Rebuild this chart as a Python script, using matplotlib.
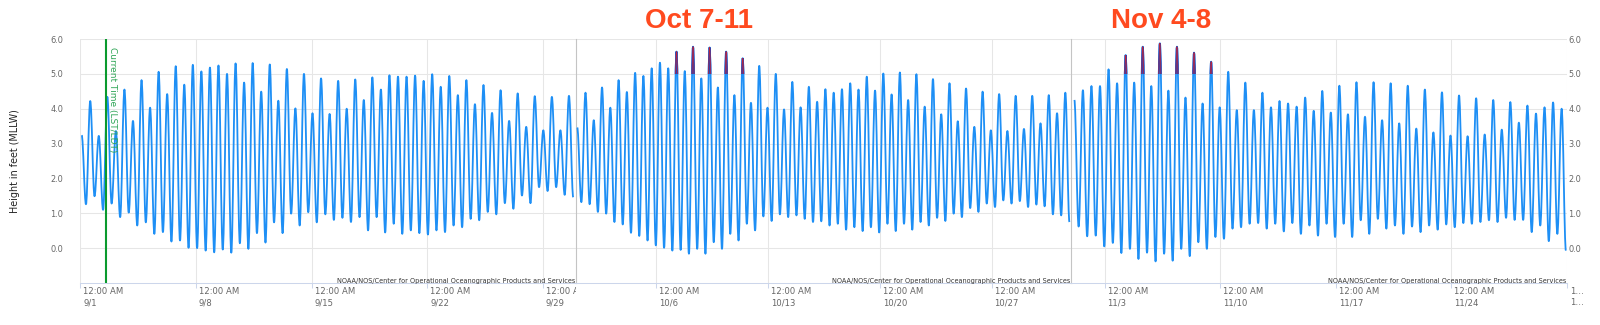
import pandas as pd
import matplotlib
matplotlib.use("Agg")
import matplotlib.pyplot as plt
import matplotlib.dates as mdates
from matplotlib.path import Path
from matplotlib.patches import PathPatch, Rectangle
from matplotlib.transforms import ScaledTranslation, Bbox, TransformedBbox, blended_transform_factory

# tide extremes in ft above MLLW, alternating high / low
sep_start = "2019-09-01 02:00"
sep_levels = [3.24, 1.26, 4.22, 1.49, 3.22, 1.10, 4.34, 1.28, 3.36, 0.89,
              4.55, 1.02, 3.65, 0.65, 4.82, 0.74, 4.03, 0.41, 5.06, 0.46,
              4.42, 0.19, 5.22, 0.22, 4.69, 0.01, 5.26, 0.00, 5.07, -0.07,
              5.18, -0.12, 5.24, -0.04, 5.00, -0.13, 5.30, 0.14, 4.75, -0.02,
              5.31, 0.43, 4.49, 0.16, 5.27, 0.74, 4.23, 0.43, 5.14, 0.99,
              4.01, 0.65, 5.00, 1.03, 3.87, 0.74, 4.87, 0.97, 3.85, 0.81,
              4.80, 0.87, 4.00, 0.75, 4.84, 0.89, 4.25, 0.51, 4.90, 0.89,
              4.55, 0.45, 4.96, 0.70, 4.92, 0.41, 4.92, 0.51, 4.95, 0.43,
              4.80, 0.39, 4.99, 0.51, 4.63, 0.46, 4.94, 0.65, 4.39, 0.60,
              4.82, 0.84, 4.13, 0.80, 4.68, 1.04, 3.88, 0.97, 4.53, 1.29,
              3.65, 1.13, 4.44, 1.51, 3.48, 1.29, 4.36, 1.75, 3.38, 1.64,
              4.34, 1.75, 3.38, 1.53, 4.37, 1.46]

oct_start = "2019-10-01 02:00"
oct_levels = [3.46, 1.32, 4.46, 1.26, 3.67, 1.04, 4.61, 0.99, 4.03, 0.75,
              4.82, 0.68, 4.48, 0.44, 5.03, 0.35, 4.94, 0.22, 5.16, 0.08,
              5.32, 0.01, 5.16, -0.07, 5.64, -0.05, 5.08, -0.16, 5.78, -0.02,
              4.87, -0.16, 5.76, 0.17, 4.61, -0.02, 5.64, 0.41, 4.39, 0.22,
              5.45, 0.70, 4.17, 0.51, 5.23, 0.91, 4.03, 0.78, 5.00, 0.97,
              3.98, 0.89, 4.77, 0.94, 4.04, 0.84, 4.63, 0.75, 4.20, 0.77,
              4.56, 0.65, 4.46, 0.70, 4.56, 0.53, 4.73, 0.60, 4.55, 0.49,
              4.92, 0.60, 4.52, 0.45, 5.01, 0.70, 4.41, 0.49, 5.04, 0.70,
              4.25, 0.53, 4.99, 0.75, 4.06, 0.65, 4.85, 0.87, 3.84, 0.78,
              4.73, 0.99, 3.64, 0.89, 4.58, 1.15, 3.48, 1.04, 4.49, 1.28,
              3.38, 1.18, 4.42, 1.37, 3.36, 1.28, 4.37, 1.35, 3.42, 1.18,
              4.37, 1.25, 3.58, 1.20, 4.39, 0.97, 3.87, 0.94, 4.46, 0.75]

nov_start = "2019-11-01 04:12"
nov_levels = [4.25, 0.62, 4.53, 0.34, 4.65, 0.36, 4.65, 0.05, 5.13, 0.15,
              4.73, -0.14, 5.54, -0.02, 4.75, -0.31, 5.78, -0.13, 4.65, -0.38,
              5.88, -0.16, 4.52, -0.36, 5.78, -0.02, 4.32, -0.23, 5.61, 0.17,
              4.15, -0.02, 5.35, 0.32, 4.04, 0.27, 5.06, 0.56, 3.96, 0.60,
              4.75, 0.70, 3.96, 0.72, 4.46, 0.56, 4.04, 0.70, 4.22, 0.48,
              4.15, 0.72, 4.06, 0.41, 4.32, 0.65, 3.94, 0.36, 4.51, 0.70,
              3.89, 0.32, 4.66, 0.70, 3.84, 0.32, 4.76, 0.80, 3.77, 0.41,
              4.76, 0.84, 3.67, 0.56, 4.73, 0.65, 3.58, 0.41, 4.66, 0.62,
              3.43, 0.46, 4.55, 0.65, 3.32, 0.53, 4.47, 0.68, 3.23, 0.60,
              4.38, 0.72, 3.21, 0.70, 4.30, 0.75, 3.26, 0.80, 4.25, 0.75,
              3.40, 0.87, 4.19, 0.81, 3.60, 0.81, 4.09, 0.46, 3.86, 0.65,
              4.04, 0.20, 4.18, 0.41, 4.00, -0.07]

half_tide = pd.Timedelta(minutes=372.6)  # high to low, half an M2 cycle

month_bounds = [("2019-09-01", "2019-10-01"), ("2019-10-01", "2019-11-01"), ("2019-11-01", "2019-12-01")]
sep_ticks = ["2019-09-01", "2019-09-08", "2019-09-15", "2019-09-22", "2019-09-29"]
oct_ticks = ["2019-10-06", "2019-10-13", "2019-10-20", "2019-10-27"]
nov_ticks = ["2019-11-03", "2019-11-10", "2019-11-17", "2019-11-24"]
end_tick = "2019-12-01"
y_ticks = [0, 1, 2, 3, 4, 5, 6]

current_time = "2019-09-02 13:20"
king_peak = 5.34     # highs at or above this get the marked tip
flood_level = 5.0    # tip is coloured from here up
credit = "NOAA/NOS/Center for Operational Oceanographic Products and Services"

LINE = "#1e8ff5"
GRID = "#e6e6e6"
AXIS = "#ccd6eb"
TXT = "#666666"


def tide_path(x, y, k=0.364):
    # cubic segments with flat tangents at each high/low, like a spline series
    verts = [(x[0], y[0])]
    codes = [Path.MOVETO]
    for i in range(len(x) - 1):
        dx = x[i + 1] - x[i]
        verts += [(x[i] + k * dx, y[i]), (x[i + 1] - k * dx, y[i + 1]), (x[i + 1], y[i + 1])]
        codes += [Path.CURVE4] * 3
    return Path(verts, codes)


fig = plt.figure(figsize=(16, 3.25), dpi=100)
gs = fig.add_gridspec(1, 3, left=0.0502, right=0.9794, top=0.88, bottom=0.1292, wspace=0)
axes = [fig.add_subplot(gs[0, i]) for i in range(3)]

series = [(sep_start, sep_levels, sep_ticks), (oct_start, oct_levels, oct_ticks), (nov_start, nov_levels, nov_ticks)]

for j, (ax, (start, levels, ticks), (m0, m1)) in enumerate(zip(axes, series, month_bounds)):
    t = pd.date_range(start, periods=len(levels), freq=half_tide)
    x = mdates.date2num(t.to_pydatetime())
    ax.add_patch(PathPatch(tide_path(x, levels), fill=False, edgecolor=LINE, lw=1.3,
                           joinstyle="round", zorder=3))
    x0 = mdates.date2num(pd.Timestamp(m0).to_pydatetime())
    x1 = mdates.date2num(pd.Timestamp(m1).to_pydatetime())

    # king tide peaks: the part above flood level drawn dark with a red core
    zone = Rectangle((x0, flood_level), x1 - x0, 2, transform=ax.transData)
    for i in range(1, len(levels) - 1):
        if levels[i] >= king_peak:
            tip = tide_path(x[i - 1:i + 2], levels[i - 1:i + 2])
            for col, w in (("#2447b8", 1.3), ("#c42035", 0.5)):
                p = PathPatch(tip, fill=False, edgecolor=col, lw=w, zorder=4)
                ax.add_patch(p)
                p.set_clip_path(zone)

    ax.set_xlim(x0, x1)
    ax.set_ylim(-1, 6)

    tick_list = list(ticks) + ([end_tick] if j == 2 else [])
    tick_x = [mdates.date2num(pd.Timestamp(d).to_pydatetime()) for d in tick_list]
    ax.set_xticks(tick_x)
    ax.set_yticks(y_ticks)
    ax.yaxis.set_major_formatter("{x:.1f}")
    ax.grid(True, color=GRID, lw=0.75)
    ax.set_axisbelow(True)
    for s in ax.spines.values():
        s.set_visible(False)
    ax.spines["bottom"].set_visible(True)
    ax.spines["bottom"].set_color(AXIS)
    ax.spines["bottom"].set_linewidth(0.75)
    if j > 0:
        ax.spines["left"].set_visible(True)
        ax.spines["left"].set_color("#c4c4c4")
        ax.spines["left"].set_linewidth(0.8)

    ax.tick_params(axis="x", length=3.6, width=0.75, color=AXIS, labelbottom=False)
    ax.tick_params(axis="y", length=0, labelsize=5.9, labelcolor=TXT, pad=12.2)
    if j == 1:
        ax.tick_params(axis="y", labelleft=False)
    if j == 2:
        ax.tick_params(axis="y", labelleft=False, labelright=True, pad=1)

    # two-line datetime labels, left aligned just right of each tick
    trans = blended_transform_factory(ax.transData, ax.transAxes)
    clip = TransformedBbox(Bbox([[0, -1], [1, 1]]), ax.transAxes)
    for d, xd in zip(tick_list, tick_x):
        ts = pd.Timestamp(d)
        if d == end_tick:
            lines, clipped = ("1\u2026", "1\u2026"), False
        else:
            lines, clipped = ("12:00 AM", f"{ts.month}/{ts.day}"), True
        for txt, dy in zip(lines, (-11, -22)):
            tx = ax.text(xd, 0, txt, fontsize=6.1, color=TXT, ha="left", va="baseline",
                         transform=trans + ScaledTranslation(3 / 100, dy / 100, fig.dpi_scale_trans))
            if clipped:
                tx.set_clip_on(True)
                tx.set_clip_box(clip)

    ax.text(1, 0, credit, transform=ax.transAxes + ScaledTranslation(-1 / 100, 0.5 / 100, fig.dpi_scale_trans),
            ha="right", va="baseline", fontsize=4.7, color="#333333", zorder=6)

# current time marker
ax = axes[0]
ct = mdates.date2num(pd.Timestamp(current_time).to_pydatetime())
ax.axvline(ct, color="#0a9a2e", lw=1.5, zorder=5)
ax.text(ct, 5.77, "Current Time (LST/LDT)", rotation=270, ha="left", va="top",
        fontsize=6.5, color="#2fa556", zorder=6,
        transform=ax.transData + ScaledTranslation(2 / 100, 0, fig.dpi_scale_trans))

fig.text(15 / 1600, 1 - 161 / 325, "Height in feet (MLLW)", rotation=90, ha="center", va="center",
         fontsize=6.9, color="#222222")

for label, cx in (("Oct 7-11", 699), ("Nov 4-8", 1161)):
    fig.text(cx / 1600, 1 - 28.3 / 325, label, ha="center", va="baseline", fontsize=20,
             fontweight="bold", family="Liberation Sans", color="#ff4a1f")

fig.savefig("out.png", dpi=100)
